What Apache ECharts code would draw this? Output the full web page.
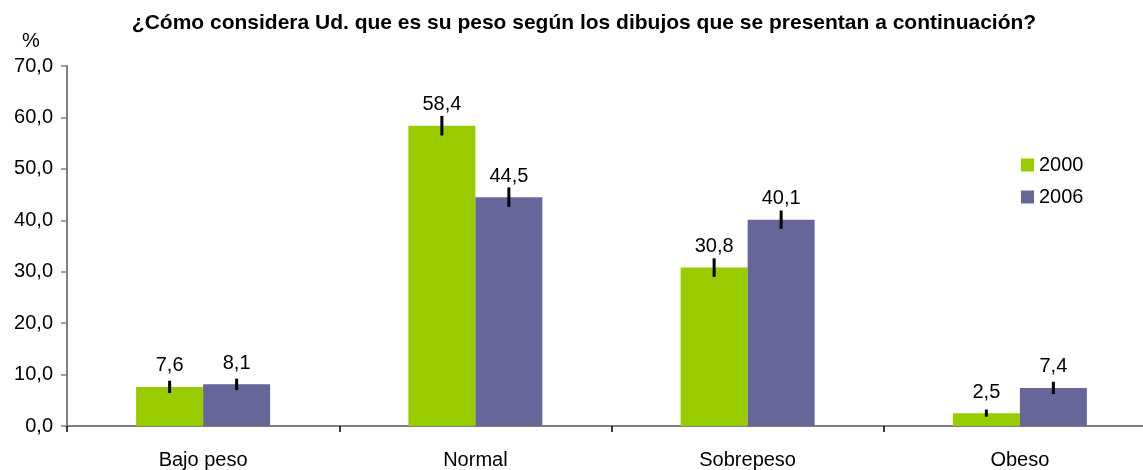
<!DOCTYPE html>
<html><head><meta charset="utf-8">
<script src="https://cdn.jsdelivr.net/npm/echarts@6/dist/echarts.min.js"></script>
<style>html,body{margin:0;padding:0;background:#fff;overflow:hidden}#c{width:1160px;height:470px}</style>
</head><body><div id="c"></div>
<script>
const categories = ['Bajo peso', 'Normal', 'Sobrepeso', 'Obeso'];
const values2000 = [7.6, 58.4, 30.8, 2.5];
const values2006 = [8.1, 44.5, 40.1, 7.4];
const err2000 = [1.2, 1.9, 1.8, 0.7];
const err2006 = [1.1, 1.9, 1.8, 1.2];
const yTicks = [0, 10, 20, 30, 40, 50, 60, 70];
const titleText = '¿Cómo considera Ud. que es su peso según los dibujos que se presentan a continuación?';

const FONT = 'Liberation Sans, Arial, sans-serif';
const BAR_W = 67;
const fmt = v => v.toFixed(1).replace('.', ',');

function errSeries(vals, errs, offset) {
  return {
    type: 'custom',
    silent: true,
    z: 5,
    data: vals.map((v, i) => [i, v, errs[i]]),
    renderItem: (params, api) => {
      const i = api.value(0), v = api.value(1), e = api.value(2);
      const p1 = api.coord([i, v + e]);
      const p2 = api.coord([i, v - e]);
      return {
        type: 'line',
        shape: { x1: p1[0] + offset, y1: p1[1], x2: p2[0] + offset, y2: p2[1] },
        style: { stroke: '#000', lineWidth: 3 }
      };
    }
  };
}

const chart = echarts.init(document.getElementById('c'), null, { renderer: 'canvas' });
chart.setOption({
  animation: false,
  backgroundColor: '#fff',
  title: {
    text: titleText, left: 579, top: 8, textAlign: 'center',
    textStyle: { fontFamily: FONT, fontSize: 21, fontWeight: 'bold', color: '#000' }
  },
  graphic: [{ type: 'text', left: 22, top: 31, style: { text: '%', font: '20px ' + FONT, fill: '#000' } }],
  legend: {
    orient: 'vertical', left: 1016, top: 150, itemWidth: 13, itemHeight: 13, itemGap: 12,
    icon: 'rect',
    data: ['2000', '2006'],
    textStyle: { fontFamily: FONT, fontSize: 20, color: '#000' }
  },
  grid: { left: 67, right: 4, top: 66, bottom: 40, containLabel: false },
  xAxis: {
    type: 'category', data: categories,
    axisLine: { lineStyle: { color: '#808080', width: 2 } },
    axisTick: { show: true, length: 6, lineStyle: { color: '#000', width: 1.5 } },
    axisLabel: { fontFamily: FONT, fontSize: 20, color: '#000', margin: 24 }
  },
  yAxis: {
    type: 'value', min: 0, max: 70, interval: 10,
    axisLine: { show: true, lineStyle: { color: '#808080', width: 2 } },
    axisTick: { show: true, length: 6, lineStyle: { color: '#808080', width: 1.5 } },
    splitLine: { show: false },
    axisLabel: { fontFamily: FONT, fontSize: 20, color: '#000', margin: 14, formatter: v => fmt(v) }
  },
  series: [
    {
      name: '2000', type: 'bar', data: values2000, barWidth: BAR_W, barGap: '0%',
      itemStyle: { color: '#99CC00' },
      label: { show: true, position: 'top', distance: 11, fontFamily: FONT, fontSize: 20, color: '#000', formatter: p => fmt(p.value) }
    },
    {
      name: '2006', type: 'bar', data: values2006, barWidth: BAR_W, barGap: '0%',
      itemStyle: { color: '#666699' },
      label: { show: true, position: 'top', distance: 11, fontFamily: FONT, fontSize: 20, color: '#000', formatter: p => fmt(p.value) }
    },
    errSeries(values2000, err2000, -BAR_W / 2),
    errSeries(values2006, err2006, BAR_W / 2)
  ]
});
</script></body></html>
